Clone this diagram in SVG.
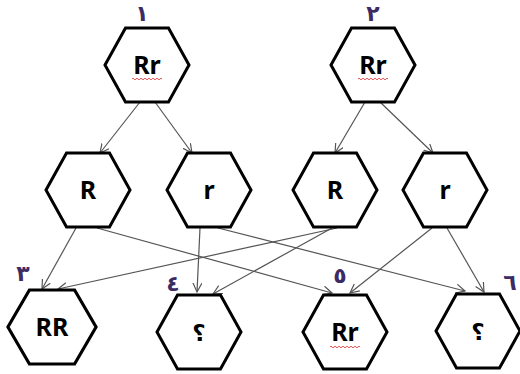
<svg xmlns="http://www.w3.org/2000/svg" xmlns:xlink="http://www.w3.org/1999/xlink" width="520" height="374" viewBox="0 0 520 374">
  <style>
    .hex { fill: #ffffff; stroke: #000000; stroke-width: 3; stroke-linejoin: miter; }
    .lbl { font-family: "Noto Sans", "DejaVu Sans", sans-serif; font-weight: 700; font-size: 25px; fill: #000000; text-anchor: middle; }
    .q { font-family: "DejaVu Sans", sans-serif; font-weight: 700; font-size: 23px; fill: #000000; text-anchor: middle; }
    .num { font-family: "DejaVu Sans", sans-serif; font-weight: 700; font-size: 22px; fill: #3d2b63; text-anchor: middle; }
    .wave { fill: none; stroke: #e05555; stroke-width: 1; }
    .edge { fill: none; stroke: #555555; stroke-width: 1.2; marker-end: url(#arrow); }
  </style>
  <defs>
    <polygon id="hex" points="-42,0 -21.5,-37 21.5,-37 42,0 21.5,37 -21.5,37"/>
    <path id="squiggle" d="M-15,0 q1,-1.6 2,0 t2,0 t2,0 t2,0 t2,0 t2,0 t2,0 t2,0 t2,0 t2,0 t2,0 t2,0 t2,0 t2,0 t2,0"/>
    <marker id="arrow" markerWidth="12" markerHeight="12" refX="9" refY="5" orient="auto" markerUnits="userSpaceOnUse">
      <path d="M0,0.5 L9,5 L0,9.5" fill="none" stroke="#555555" stroke-width="1.2"/>
    </marker>
  </defs>

  <!-- connectors -->
  <g id="connectors">
    <line class="edge" x1="140" y1="102" x2="100" y2="153"/>
    <line class="edge" x1="155" y1="102" x2="192" y2="153"/>
    <line class="edge" x1="365" y1="102" x2="335" y2="153"/>
    <line class="edge" x1="380" y1="102" x2="433" y2="153"/>
    <line class="edge" x1="76" y1="228" x2="42" y2="289"/>
    <line class="edge" x1="97" y1="228" x2="332" y2="293"/>
    <line class="edge" x1="200" y1="228" x2="197" y2="292"/>
    <line class="edge" x1="218" y1="228" x2="465" y2="291"/>
    <line class="edge" x1="337" y1="228" x2="58" y2="289"/>
    <line class="edge" x1="332" y1="228" x2="213" y2="294"/>
    <line class="edge" x1="432" y1="228" x2="350" y2="293"/>
    <line class="edge" x1="447" y1="228" x2="484" y2="292"/>
  </g>

  <!-- parents -->
  <g id="parent1">
    <use xlink:href="#hex" class="hex" transform="translate(147,65)"/>
    <text class="lbl" x="147" y="74">Rr</text>
    <use xlink:href="#squiggle" class="wave" transform="translate(147,79)"/>
    <text class="num" x="142" y="21">١</text>
  </g>
  <g id="parent2">
    <use xlink:href="#hex" class="hex" transform="translate(373,65)"/>
    <text class="lbl" x="373" y="74">Rr</text>
    <use xlink:href="#squiggle" class="wave" transform="translate(373,79)"/>
    <text class="num" x="373" y="21">٢</text>
  </g>

  <!-- gametes -->
  <g id="gamete1">
    <use xlink:href="#hex" class="hex" transform="translate(88,190)"/>
    <text class="lbl" x="88" y="199">R</text>
  </g>
  <g id="gamete2">
    <use xlink:href="#hex" class="hex" transform="translate(209,190)"/>
    <text class="lbl" x="209" y="199">r</text>
  </g>
  <g id="gamete3">
    <use xlink:href="#hex" class="hex" transform="translate(335,190)"/>
    <text class="lbl" x="335" y="199">R</text>
  </g>
  <g id="gamete4">
    <use xlink:href="#hex" class="hex" transform="translate(445,190)"/>
    <text class="lbl" x="445" y="199">r</text>
  </g>

  <!-- offspring -->
  <g id="child3">
    <use xlink:href="#hex" class="hex" transform="translate(52,327) scale(1.05,1)"/>
    <text class="lbl" x="52" y="336">RR</text>
    <text class="num" x="23" y="281">٣</text>
  </g>
  <g id="child4">
    <use xlink:href="#hex" class="hex" transform="translate(199,332)"/>
    <text class="q" x="199" y="341">؟</text>
    <text class="num" x="173" y="291">٤</text>
  </g>
  <g id="child5">
    <use xlink:href="#hex" class="hex" transform="translate(345,332)"/>
    <text class="lbl" x="345" y="341">Rr</text>
    <use xlink:href="#squiggle" class="wave" transform="translate(345,347)"/>
    <text class="num" x="340" y="283">٥</text>
  </g>
  <g id="child6">
    <use xlink:href="#hex" class="hex" transform="translate(478,331)"/>
    <text class="q" x="478" y="340">؟</text>
    <text class="num" x="510" y="290">٦</text>
  </g>
</svg>
